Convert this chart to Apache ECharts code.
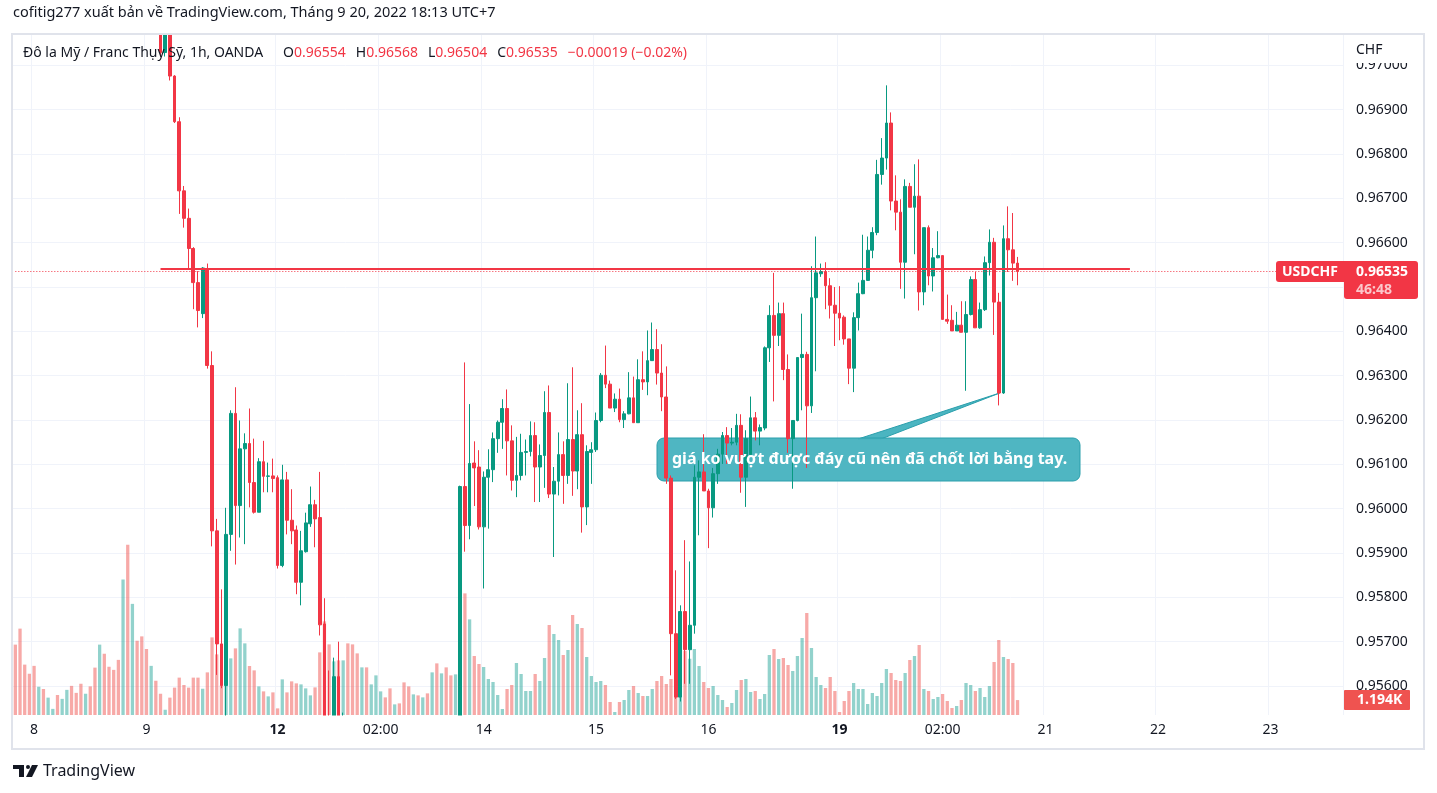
<!DOCTYPE html>
<html>
<head>
<meta charset="utf-8">
<title>USDCHF 1h</title>
<script src="https://cdn.jsdelivr.net/npm/echarts@6/dist/echarts.min.js"></script>
<style>
  html, body { margin: 0; padding: 0; background: #fff; }
  #chart { width: 1437px; height: 793px; }
</style>
</head>
<body>
<div id="chart"></div>
<script>
// USDCHF 1h bars [open, high, low, close], Sep 7 20:00 -> Sep 20 18:00 (UTC+7)
const usdchf = [
  [0.9788, 0.9792, 0.9776, 0.9781], [0.9781, 0.9784, 0.9766, 0.9770], [0.9770, 0.9773, 0.9760, 0.9764],
  [0.9764, 0.9767, 0.9756, 0.9760], [0.9760, 0.9763, 0.9751, 0.9755], [0.9755, 0.9761, 0.9752, 0.9758],
  [0.9758, 0.9760, 0.9751, 0.9754], [0.9754, 0.9759, 0.9752, 0.9757], [0.9757, 0.9760, 0.9755, 0.9758],
  [0.9758, 0.9760, 0.9753, 0.9755], [0.9755, 0.9759, 0.9754, 0.9757], [0.9757, 0.9762, 0.9756, 0.9760],
  [0.9760, 0.9762, 0.9754, 0.9756], [0.9756, 0.9758, 0.9751, 0.9753], [0.9753, 0.9755, 0.9747, 0.9749],
  [0.9749, 0.9754, 0.9748, 0.9752], [0.9752, 0.9754, 0.9746, 0.9748], [0.9748, 0.9750, 0.9739, 0.9742],
  [0.9742, 0.9752, 0.9740, 0.9749], [0.9749, 0.9751, 0.9740, 0.9743], [0.9743, 0.9745, 0.9735, 0.9738],
  [0.9738, 0.9741, 0.9731, 0.9734], [0.9734, 0.9737, 0.9726, 0.9729], [0.9729, 0.9742, 0.9724, 0.9738],
  [0.9738, 0.9741, 0.9719, 0.9724], [0.9724, 0.9735, 0.9720, 0.9731], [0.9731, 0.9734, 0.9721, 0.9725],
  [0.9725, 0.9728, 0.9716, 0.9719], [0.9719, 0.9722, 0.9713, 0.9716], [0.9716, 0.9721, 0.9714, 0.9719],
  [0.9719, 0.9721, 0.9710, 0.9712], [0.9712, 0.9715, 0.97020, 0.97029], [0.97029, 0.9712, 0.97020, 0.9709],
  [0.9709, 0.9711, 0.96966, 0.96976], [0.96976, 0.96978, 0.96870, 0.96873], [0.96873, 0.96883, 0.96665, 0.96717],
  [0.96717, 0.96728, 0.96634, 0.96655], [0.96655, 0.96677, 0.96541, 0.96587], [0.96587, 0.96590, 0.96450, 0.96510],
  [0.96510, 0.96536, 0.96409, 0.96447], [0.96440, 0.96545, 0.96430, 0.96543], [0.96541, 0.96553, 0.96316, 0.96323],
  [0.96323, 0.96355, 0.95915, 0.95950], [0.95950, 0.95977, 0.95625, 0.95695], [0.95695, 0.95818, 0.95595, 0.95601],
  [0.95601, 0.96002, 0.95500, 0.95942], [0.95942, 0.96222, 0.95905, 0.96215], [0.96215, 0.96274, 0.95874, 0.96007],
  [0.96007, 0.96199, 0.95935, 0.96135], [0.96135, 0.96170, 0.95920, 0.96147], [0.96147, 0.96226, 0.96003, 0.96059],
  [0.96059, 0.96158, 0.95989, 0.95992], [0.95992, 0.96114, 0.95992, 0.96106], [0.96106, 0.96153, 0.96037, 0.96073],
  [0.96073, 0.96104, 0.96037, 0.96074], [0.96074, 0.96113, 0.96037, 0.96068], [0.96070, 0.96075, 0.95865, 0.95872],
  [0.95872, 0.96099, 0.95868, 0.96065], [0.96065, 0.96083, 0.95942, 0.95974], [0.95974, 0.96044, 0.95920, 0.95950],
  [0.95952, 0.95962, 0.95807, 0.95834], [0.95834, 0.95950, 0.95782, 0.95905], [0.95903, 0.95991, 0.95901, 0.95968],
  [0.95966, 0.96050, 0.95959, 0.96009], [0.96009, 0.96020, 0.95913, 0.95977], [0.95980, 0.96083, 0.95714, 0.95738],
  [0.95740, 0.95798, 0.95450, 0.95480], [0.95480, 0.95635, 0.95380, 0.95420], [0.95420, 0.95664, 0.95370, 0.95621],
  [0.95621, 0.95700, 0.95430, 0.95460], [0.95460, 0.95540, 0.95410, 0.95500], [0.9550, 0.9551, 0.9536, 0.9540],
  [0.9540, 0.9543, 0.9527, 0.9531], [0.9531, 0.9535, 0.9519, 0.9524], [0.9524, 0.9536, 0.9521, 0.9532],
  [0.9532, 0.9535, 0.9522, 0.9526], [0.9526, 0.9533, 0.9524, 0.9530], [0.9530, 0.9538, 0.9528, 0.9535],
  [0.9535, 0.9540, 0.9533, 0.9537], [0.9537, 0.9539, 0.9533, 0.9535], [0.9535, 0.9537, 0.9529, 0.9531],
  [0.9531, 0.9534, 0.9530, 0.9532], [0.9532, 0.9534, 0.9529, 0.9531], [0.9531, 0.9533, 0.9524, 0.9526],
  [0.9526, 0.9528, 0.9520, 0.9522], [0.9522, 0.9527, 0.9521, 0.9525], [0.9525, 0.9527, 0.9521, 0.9523],
  [0.9523, 0.9528, 0.9522, 0.9526], [0.9526, 0.9528, 0.9521, 0.9523], [0.9523, 0.9533, 0.9521, 0.9530],
  [0.9530, 0.9532, 0.9521, 0.9524], [0.9524, 0.9533, 0.9522, 0.9530], [0.9530, 0.9532, 0.9522, 0.9525],
  [0.9525, 0.9528, 0.9518, 0.9521], [0.9521, 0.9529, 0.9519, 0.9526], [0.9526, 0.96052, 0.9514, 0.96050],
  [0.96050, 0.96330, 0.95903, 0.95962], [0.95962, 0.96236, 0.95931, 0.96102], [0.96103, 0.96152, 0.96006, 0.96092],
  [0.96094, 0.96132, 0.95953, 0.95959], [0.95959, 0.96084, 0.95820, 0.96071], [0.96071, 0.96134, 0.95955, 0.96088],
  [0.96088, 0.96172, 0.96060, 0.96158], [0.96158, 0.96199, 0.96126, 0.96195], [0.96195, 0.96247, 0.96135, 0.96226],
  [0.96226, 0.96269, 0.96075, 0.96153], [0.96153, 0.96188, 0.96041, 0.96064], [0.96064, 0.96162, 0.96026, 0.96075],
  [0.96075, 0.96169, 0.96064, 0.96127], [0.96127, 0.96156, 0.96075, 0.96129], [0.96129, 0.96197, 0.96118, 0.96165],
  [0.96165, 0.96195, 0.96015, 0.96094], [0.96094, 0.96145, 0.96015, 0.96120], [0.96120, 0.96265, 0.96047, 0.96217],
  [0.96217, 0.96278, 0.96024, 0.96033], [0.96033, 0.96094, 0.95891, 0.96062], [0.96062, 0.96172, 0.96030, 0.96122],
  [0.96122, 0.96152, 0.96011, 0.96075], [0.96075, 0.96283, 0.96056, 0.96156], [0.96156, 0.96319, 0.96029, 0.96085],
  [0.96085, 0.96222, 0.96044, 0.96167], [0.96167, 0.96238, 0.95946, 0.96004], [0.96004, 0.96143, 0.95963, 0.96129],
  [0.96127, 0.96150, 0.96056, 0.96133], [0.96133, 0.96217, 0.96128, 0.96199], [0.96199, 0.96306, 0.96195, 0.96301],
  [0.96301, 0.96368, 0.96272, 0.96281], [0.96281, 0.96289, 0.96227, 0.96227], [0.96227, 0.96260, 0.96218, 0.96247],
  [0.96247, 0.96271, 0.96195, 0.96201], [0.96201, 0.96220, 0.96182, 0.96214], [0.96214, 0.96308, 0.96213, 0.96250],
  [0.96250, 0.96298, 0.96194, 0.96194], [0.96194, 0.96337, 0.96194, 0.96291], [0.96291, 0.96355, 0.96268, 0.96286],
  [0.96286, 0.96402, 0.96256, 0.96334], [0.96334, 0.96420, 0.96334, 0.96359], [0.96359, 0.96405, 0.96280, 0.96306],
  [0.96306, 0.96371, 0.96220, 0.96252], [0.96252, 0.96321, 0.96056, 0.96069], [0.96069, 0.96075, 0.95624, 0.95718],
  [0.95718, 0.95861, 0.95571, 0.95575], [0.95575, 0.95782, 0.95565, 0.95768], [0.95768, 0.95929, 0.95605, 0.95682],
  [0.95682, 0.95881, 0.95605, 0.95737], [0.95737, 0.96098, 0.95718, 0.96071], [0.96071, 0.96109, 0.95940, 0.96083],
  [0.96083, 0.96168, 0.96040, 0.96040], [0.96040, 0.96045, 0.95911, 0.96002], [0.96002, 0.96092, 0.95980, 0.96079],
  [0.96079, 0.96135, 0.96056, 0.96123], [0.96123, 0.96173, 0.96101, 0.96165], [0.96165, 0.96184, 0.96101, 0.96148],
  [0.96148, 0.96182, 0.96143, 0.96150], [0.96150, 0.96214, 0.96143, 0.96188], [0.96188, 0.96213, 0.96036, 0.96071],
  [0.96071, 0.96177, 0.96004, 0.96158], [0.96122, 0.96253, 0.96120, 0.96205], [0.96205, 0.96218, 0.96154, 0.96175],
  [0.96175, 0.96190, 0.96143, 0.96183], [0.96182, 0.96366, 0.96177, 0.96363], [0.96363, 0.96459, 0.96331, 0.96436],
  [0.96436, 0.96532, 0.96242, 0.96391], [0.96391, 0.96465, 0.96367, 0.96440], [0.96440, 0.96465, 0.96290, 0.96314],
  [0.96314, 0.96348, 0.96126, 0.96158], [0.96158, 0.96199, 0.96045, 0.96199], [0.96199, 0.96342, 0.96197, 0.96341],
  [0.96341, 0.96440, 0.96222, 0.96348], [0.96348, 0.96354, 0.96092, 0.96232], [0.96232, 0.96547, 0.96216, 0.96476],
  [0.96476, 0.96614, 0.96310, 0.96532], [0.96530, 0.96553, 0.96523, 0.96535], [0.96535, 0.96556, 0.96450, 0.96503],
  [0.96503, 0.96520, 0.96429, 0.96459], [0.96459, 0.96500, 0.96367, 0.96441], [0.96441, 0.96502, 0.96380, 0.96430],
  [0.96432, 0.96436, 0.96370, 0.96383], [0.96383, 0.96383, 0.96281, 0.96317], [0.96317, 0.96443, 0.96263, 0.96431],
  [0.96431, 0.96510, 0.96402, 0.96485], [0.96485, 0.96618, 0.96484, 0.96515], [0.96515, 0.96614, 0.96514, 0.96583],
  [0.96583, 0.96635, 0.96565, 0.96623], [0.96623, 0.96787, 0.96617, 0.96754], [0.96754, 0.96836, 0.96731, 0.96791],
  [0.96791, 0.96955, 0.96765, 0.96870], [0.96870, 0.96894, 0.96673, 0.96694], [0.96694, 0.96752, 0.96628, 0.96669],
  [0.96669, 0.96698, 0.96496, 0.96556], [0.96556, 0.96743, 0.96474, 0.96727], [0.96727, 0.96735, 0.96680, 0.96680],
  [0.96680, 0.96777, 0.96574, 0.96705], [0.96705, 0.96788, 0.96447, 0.96489], [0.96489, 0.96634, 0.96459, 0.96634],
  [0.96634, 0.96639, 0.96504, 0.96525], [0.96525, 0.96588, 0.96490, 0.96566], [0.96566, 0.96626, 0.96565, 0.96571],
  [0.96571, 0.96571, 0.96427, 0.96427], [0.96427, 0.96483, 0.96417, 0.96423], [0.96425, 0.96459, 0.96401, 0.96401],
  [0.96401, 0.96444, 0.96401, 0.96414], [0.96414, 0.96468, 0.96398, 0.96398], [0.96398, 0.96468, 0.96266, 0.96438],
  [0.96438, 0.96524, 0.96436, 0.96517], [0.96517, 0.96534, 0.96408, 0.96408], [0.96408, 0.96465, 0.96406, 0.96449],
  [0.96449, 0.96569, 0.96446, 0.96555], [0.96555, 0.96630, 0.96526, 0.96601], [0.96601, 0.96611, 0.96392, 0.96466],
  [0.96466, 0.96487, 0.96233, 0.96261], [0.96261, 0.96639, 0.96259, 0.96609], [0.96609, 0.96682, 0.96534, 0.96584],
  [0.96584, 0.96667, 0.96514, 0.96554], [0.96554, 0.96568, 0.96504, 0.96535]
];

const volumes = [
  5630, 6910, 4030, 3300, 3930, 2260, 2080, 1390, 490, 1600, 1290, 2010, 2330, 1770, 2500, 1700,
  2290, 3790, 5630, 4900, 3860, 3610, 4410, 10840, 13620, 8890, 5940, 6290, 5280, 3930, 2740, 1700,
  420, 1390, 2190, 2990, 2400, 2190, 2990, 2990, 2100, 3410, 6210, 4850, 2370, 2370, 4530, 5330,
  6930, 5730, 3920, 3570, 2290, 1890, 1490, 1810, 530, 2850, 1810, 2690, 2530, 2450, 2130, 1570,
  2210, 5010, 7490, 5650, 4290, 4370, 4370, 5730, 5650, 4930, 3810, 3810, 2450, 3170, 1890, 1410,
  2130, 850, 930, 2610, 2290, 1650, 1570, 1410, 1730, 3410, 4130, 3330, 3810, 3170, 3250, 4000,
  9730, 7650, 4720, 4080, 3840, 2880, 2640, 1600, 480, 2080, 2400, 4160, 3280, 1920, 1920, 3280,
  2720, 4560, 7200, 6480, 6000, 4800, 5200, 8000, 7280, 6960, 4640, 3120, 2640, 2720, 2400, 1040,
  240, 1040, 1200, 2000, 2320, 1760, 1520, 1520, 2080, 2720, 3120, 2480, 2880, 3280, 4000, 5120,
  4500, 5280, 3920, 2640, 2160, 2320, 1600, 1200, 640, 960, 2000, 2800, 2880, 1840, 1920, 1280,
  1680, 4800, 5280, 4480, 4560, 4000, 3520, 4720, 6160, 8160, 5360, 3040, 2400, 2160, 3040, 1920,
  240, 1120, 1920, 2560, 2080, 2080, 880, 1760, 1520, 2560, 3680, 3360, 2800, 2720, 3360, 4400,
  4720, 5600, 2080, 1920, 1280, 1440, 1680, 1120, 560, 720, 1200, 2560, 2400, 1920, 2160, 1440,
  2320, 4240, 6000, 4640, 4480, 4160, 1194
];

// x axis: one slot per hour, plus empty future slots to the right edge
const slotCount = 284;
const dayTicks = [
  [4, '8'], [28, '9'], [56, '12'], [78, '02:00'], [100, '14'], [124, '15'],
  [148, '16'], [176, '19'], [198, '02:00'], [220, '21'], [244, '22'], [268, '23']
];
const boldTicks = ['12', '19'];
const priceTicks = [0.956, 0.957, 0.958, 0.959, 0.960, 0.961, 0.962, 0.963,
                    0.964, 0.965, 0.966, 0.967, 0.968, 0.969, 0.970];

const resistance = { level: 0.96542, from: 31, to: 238 };
const noteBar = 210;
const noteText = 'giá ko vượt được đáy cũ nên đã chốt lời bằng tay.';
const countdown = '46:48';

const FONT = '"Noto Sans", Roboto, sans-serif';
const UP = '#089981', DOWN = '#f23645';
const UP_VOL = 'rgba(38,166,154,0.5)', DOWN_VOL = 'rgba(239,83,80,0.5)';

const categories = [];
for (let i = 0; i < slotCount; i++) categories.push(String(i));
const tickMap = {};
dayTicks.forEach(([i, t]) => { tickMap[i] = t; });
const isTick = (idx) => tickMap[idx] !== undefined;

const candleData = usdchf.map(r => [r[0], r[3], r[2], r[1]]);
const volumeData = volumes.map((v, i) => ({
  value: v,
  itemStyle: { color: usdchf[i][3] >= usdchf[i][0] ? UP_VOL : DOWN_VOL }
}));

const lastIdx = usdchf.length - 1;
const last = usdchf[lastIdx];
const prevClose = usdchf[lastIdx - 1][3];

const chart = echarts.init(document.getElementById('chart'));

const option = {
  animation: false,
  backgroundColor: '#ffffff',
  textStyle: { fontFamily: FONT },
  grid: [
    { left: 13, right: 94, top: 35, bottom: 78 },
    { left: 13, right: 94, top: 515, bottom: 78 }
  ],
  xAxis: [
    {
      // price pane: only the vertical day lines
      type: 'category',
      gridIndex: 0,
      data: categories,
      boundaryGap: true,
      axisLine: { show: false },
      axisTick: { show: false },
      axisLabel: { show: false },
      splitLine: {
        show: true,
        interval: (idx) => isTick(idx),
        lineStyle: { color: '#f0f3fa', width: 1 }
      }
    },
    {
      // same bottom edge: carries the time labels above the overflow mask
      type: 'category',
      gridIndex: 1,
      data: categories,
      boundaryGap: true,
      z: 30,
      axisLine: { show: false },
      axisTick: { show: false },
      splitLine: { show: false },
      axisLabel: {
        interval: (idx) => isTick(idx),
        formatter: (val, idx) => {
          const t = tickMap[idx];
          if (t === undefined) return '';
          return boldTicks.includes(t) ? '{b|' + t + '}' : t;
        },
        color: '#131722',
        fontSize: 14,
        margin: 8,
        rich: { b: { fontWeight: 'bold', fontSize: 14, color: '#131722' } }
      }
    }
  ],
  yAxis: [
    {
      type: 'value',
      gridIndex: 0,
      position: 'right',
      min: 0.955346,
      max: 0.970686,
      scale: true,
      axisLine: { show: false },
      axisTick: { show: false, customValues: priceTicks },
      axisLabel: {
        customValues: priceTicks,
        formatter: (v) => v.toFixed(5),
        color: '#131722',
        fontSize: 14,
        margin: 13
      },
      splitLine: { show: true, lineStyle: { color: '#f0f3fa', width: 1 } }
    },
    {
      type: 'value',
      gridIndex: 1,
      min: 0,
      max: 16000,
      axisLine: { show: false },
      axisTick: { show: false },
      axisLabel: { show: false },
      splitLine: { show: false }
    }
  ],
  series: [
    {
      name: 'Volume',
      type: 'bar',
      xAxisIndex: 1,
      yAxisIndex: 1,
      data: volumeData,
      barWidth: '70%',
      z: 1,
      silent: true
    },
    {
      name: 'USDCHF',
      type: 'candlestick',
      xAxisIndex: 0,
      yAxisIndex: 0,
      data: candleData,
      barWidth: '70%',
      clip: true,
      z: 3,
      itemStyle: {
        color: UP, color0: DOWN,
        borderColor: UP, borderColor0: DOWN,
        borderWidth: 1
      },
      markLine: {
        silent: true,
        symbol: ['none', 'none'],
        label: { show: false },
        data: [
          [
            { coord: [resistance.from, resistance.level], lineStyle: { color: DOWN, width: 2, type: 'solid' } },
            { coord: [resistance.to, resistance.level] }
          ],
          [
            { coord: [0, last[3]], lineStyle: { color: DOWN, width: 1, type: [1, 2] } },
            { coord: [slotCount - 1, last[3]] }
          ]
        ]
      }
    }
  ]
};

chart.setOption(option);

// overlays placed from the chart's own scales
const yLast = chart.convertToPixel({ yAxisIndex: 0 }, last[3]);
const tip = chart.convertToPixel({ gridIndex: 0 }, [noteBar, usdchf[noteBar][3]]);
const yVol = chart.convertToPixel({ yAxisIndex: 1 }, volumes[lastIdx]);

const change = last[3] - prevClose;
const pct = change / prevClose * 100;
const sign = (v) => (v < 0 ? '\u2212' : '+');
const changeText = sign(change) + Math.abs(change).toFixed(5) + ' (' + sign(pct) + Math.abs(pct).toFixed(2) + '%)';
const volText = (volumes[lastIdx] / 1000).toFixed(3) + 'K';

const box = { x: 657, y: 438, w: 423, h: 43 };

chart.setOption({
  graphic: [
    // masks hiding candles that run past the pane top and bottom
    { type: 'rect', z: 10, silent: true, shape: { x: 0, y: 0, width: 1437, height: 34 }, style: { fill: '#ffffff' } },
    { type: 'rect', z: 10, silent: true, shape: { x: 0, y: 715.5, width: 1437, height: 78 }, style: { fill: '#ffffff' } },
    {
      type: 'text', z: 20,
      style: {
        x: 13, y: 13, verticalAlign: 'middle',
        text: 'cofitig277 xuất bản về TradingView.com, Tháng 9 20, 2022 18:13 UTC+7',
        fontFamily: FONT, fontSize: 14.5, fill: '#131722'
      }
    },
    {
      type: 'rect', z: 20, silent: true,
      shape: { x: 12, y: 34, width: 1412, height: 715 },
      style: { fill: 'none', stroke: '#e0e3eb', lineWidth: 2 }
    },
    {
      type: 'text', z: 20,
      style: {
        x: 23, y: 53, verticalAlign: 'middle',
        fontFamily: FONT, fontSize: 14, fill: '#131722',
        text: '{n|Đô la Mỹ / Franc Thụy Sỹ, 1h, OANDA}' +
              '{k|O}{v|' + last[0].toFixed(5) + '}' +
              '{k|H}{v|' + last[1].toFixed(5) + '}' +
              '{k|L}{v|' + last[2].toFixed(5) + '}' +
              '{k|C}{v|' + last[3].toFixed(5) + '}' +
              '{c|' + changeText + '}',
        rich: {
          n: { fontFamily: FONT, fontSize: 14, fill: '#131722', padding: [0, 10, 0, 0] },
          k: { fontFamily: FONT, fontSize: 14, fill: '#131722', padding: [0, 0, 0, 10] },
          v: { fontFamily: FONT, fontSize: 14, fill: DOWN },
          c: { fontFamily: FONT, fontSize: 14, fill: DOWN, padding: [0, 0, 0, 10] }
        }
      }
    },
    // mask above the top price label, then the currency name
    {
      type: 'rect', z: 15, silent: true,
      shape: { x: 1345, y: 36, width: 78, height: 27 },
      style: { fill: '#ffffff' }
    },
    {
      type: 'text', z: 16,
      style: { x: 1356, y: 50, verticalAlign: 'middle', text: 'CHF', fontFamily: FONT, fontSize: 14, fill: '#131722' }
    },
    // callout
    {
      type: 'polygon', z: 1, silent: true,
      shape: { points: [[858, box.y + 1], [881, box.y + 1], [tip[0] + 1, tip[1]]] },
      style: { fill: 'rgba(60,175,188,0.92)', stroke: '#2a9fac', lineWidth: 1 }
    },
    {
      type: 'rect', z: 1, silent: true,
      shape: { x: box.x, y: box.y, width: box.w, height: box.h, r: 7 },
      style: { fill: 'rgba(70,178,191,0.95)', stroke: '#2a9fac', lineWidth: 1 }
    },
    {
      type: 'text', z: 20,
      style: {
        x: 672, y: box.y + box.h / 2, verticalAlign: 'middle',
        text: noteText, fontFamily: FONT, fontSize: 16, fontWeight: 'bold', fill: '#ffffff'
      }
    },
    // last price label
    {
      type: 'rect', z: 20,
      shape: { x: 1276, y: yLast - 10.5, width: 69, height: 21, r: [3, 0, 0, 3] },
      style: { fill: DOWN }
    },
    {
      type: 'text', z: 21,
      style: {
        x: 1310, y: yLast, align: 'center', verticalAlign: 'middle',
        text: 'USDCHF', fontFamily: FONT, fontSize: 14, fontWeight: 'bold', fill: '#ffffff'
      }
    },
    {
      type: 'rect', z: 20,
      shape: { x: 1344, y: yLast - 10.5, width: 74, height: 38, r: [0, 3, 3, 3] },
      style: { fill: DOWN }
    },
    {
      type: 'text', z: 21,
      style: {
        x: 1356, y: yLast, verticalAlign: 'middle',
        text: last[3].toFixed(5), fontFamily: FONT, fontSize: 14, fontWeight: 'bold', fill: '#ffffff'
      }
    },
    {
      type: 'text', z: 21,
      style: {
        x: 1356, y: yLast + 18, verticalAlign: 'middle',
        text: countdown, fontFamily: FONT, fontSize: 14, fontWeight: 'bold', fill: 'rgba(255,255,255,0.72)'
      }
    },
    // last volume label
    {
      type: 'rect', z: 20,
      shape: { x: 1344, y: yVol - 10, width: 66, height: 20, r: 1 },
      style: { fill: '#ef5350' }
    },
    {
      type: 'text', z: 21,
      style: {
        x: 1357, y: yVol, verticalAlign: 'middle',
        text: volText, fontFamily: FONT, fontSize: 14, fontWeight: 'bold', fill: '#ffffff'
      }
    },
    // TradingView logo
    { type: 'rect', z: 20, shape: { x: 13, y: 765, width: 11, height: 4 }, style: { fill: '#131722' } },
    { type: 'rect', z: 20, shape: { x: 19, y: 765, width: 5, height: 12 }, style: { fill: '#131722' } },
    { type: 'circle', z: 20, shape: { cx: 28, cy: 767, r: 2 }, style: { fill: '#131722' } },
    { type: 'polygon', z: 20, shape: { points: [[32, 765], [38, 765], [32, 777], [26, 777]] }, style: { fill: '#131722' } },
    {
      type: 'text', z: 20,
      style: { x: 43, y: 771, verticalAlign: 'middle', text: 'TradingView', fontFamily: FONT, fontSize: 16, fill: '#131722' }
    }
  ]
});
</script>
</body>
</html>
